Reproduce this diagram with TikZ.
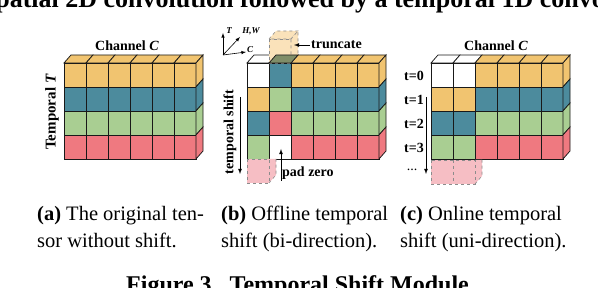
\documentclass[tikz,border=0pt]{standalone}
\usepackage{fontspec}
\setmainfont{Liberation Serif}
\usepackage{xcolor}
\definecolor{tsmorange}{RGB}{241,196,112}
\definecolor{tsmteal}{RGB}{76,139,157}
\definecolor{tsmvert}{RGB}{169,206,146}
\definecolor{tsmrouge}{RGB}{239,121,128}
\definecolor{tsmpeche}{RGB}{250,226,186}
\definecolor{tsmrose}{RGB}{246,190,196}
\definecolor{tsmolive}{RGB}{128,142,105}
\usepackage{tikz}
\usetikzlibrary{positioning}
% Tenseur : abscisse de gauche, puis les couleurs des quatre lignes
\newcommand{\tenseur}[5]{%
  \foreach \ligne [count=\rang from 0] in {{#2},{#3},{#4},{#5}}{
    \foreach \coul [count=\colonne from 0] in \ligne{
      \draw[cube, fill=\coul] (#1+22*\colonne,63+24*\rang) rectangle ++(22,24);
      \ifnum\rang=0 \draw[cube, fill=\coul] (#1+22*\colonne,63) -- ++(7,-8)
        -- ++(22,0) -- ++(-7,8) -- cycle;\fi
      \ifnum\colonne=5 \draw[cube, fill=\coul] (#1+132,63+24*\rang) -- ++(7,-8)
        -- ++(0,24) -- ++(-7,8) -- cycle;\fi
    }
  }}

\begin{document}
\begin{tikzpicture}[x=1pt, y=-1pt,
    cube/.style={draw=black!90, line width=0.75pt},
    fantome/.style={draw=black!45, dashed, line width=0.6pt},
    etiquette/.style={font=\bfseries\fontsize{14}{16}\selectfont, inner sep=1pt},
    axe/.style={font=\bfseries\itshape\fontsize{9}{10}\selectfont, inner sep=0pt},
    legende/.style={font=\fontsize{20.5}{27}\selectfont, align=left,
                    anchor=north west, inner sep=0pt},
    fleche/.style={-latex, line width=0.8pt}]
  \clip (0,0) rectangle (598,288);
  % Texte coupe en haut et en bas de la page
  \node[anchor=base west, inner sep=0pt,
        font=\bfseries\fontsize{26}{30}\selectfont] (entete) at (-15,8)
    {spatial 2D convolution followed by a temporal 1D convolution};
  \node[anchor=base west, inner sep=0pt,
        font=\bfseries\fontsize{24}{28}\selectfont] (figure) at (126,293)
    {Figure 3.\ \ Temporal Shift Module};
  % (a) tenseur d'origine
  \tenseur{64}{tsmorange,tsmorange,tsmorange,tsmorange,tsmorange,tsmorange}
    {tsmteal,tsmteal,tsmteal,tsmteal,tsmteal,tsmteal}
    {tsmvert,tsmvert,tsmvert,tsmvert,tsmvert,tsmvert}
    {tsmrouge,tsmrouge,tsmrouge,tsmrouge,tsmrouge,tsmrouge}
  \node[etiquette] (canalA) at (127,46) {Channel \textit{C}};
  \node[etiquette, rotate=90, font=\bfseries\fontsize{15}{17}\selectfont]
    (tempsA) at (52,112) {Temporal \textit{T}};
  % (b) decalage hors ligne, dans les deux sens
  \tenseur{247}{white,tsmteal,tsmorange,tsmorange,tsmorange,tsmorange}
    {tsmorange,tsmvert,tsmteal,tsmteal,tsmteal,tsmteal}
    {tsmteal,tsmrouge,tsmvert,tsmvert,tsmvert,tsmvert}
    {tsmvert,white,tsmrouge,tsmrouge,tsmrouge,tsmrouge}
  \draw[fantome, fill=tsmpeche] (269,39) rectangle (291,63);
  \draw[fantome, fill=tsmpeche] (269,39) -- (276,31) -- (298,31) -- (291,39) -- cycle;
  \draw[fantome, fill=tsmpeche] (291,39) -- (298,31) -- (298,55) -- (291,63) -- cycle;
  \draw[cube, fill=tsmolive] (269,63) -- (276,55) -- (298,55) -- (291,63) -- cycle;
  \fill[tsmrose] (269,159) -- (276,159) -- (276,175) -- (269,183) -- cycle;
  \draw[fantome, fill=tsmrose] (247,159) rectangle (269,183);
  \draw[fantome] (269,183) -- (276,175) -- (276,159);
  % axes T, H,W et C
  \coordinate (origine) at (223,55);
  \coordinate (axeT) at (223,33);
  \coordinate (axeHW) at (240,37);
  \coordinate (axeC) at (246,52);
  \draw[-latex, line width=0.6pt] (origine) -- (axeT);
  \draw[-latex, line width=0.6pt] (origine) -- (axeHW);
  \draw[-latex, line width=0.6pt] (origine) -- (axeC);
  \node[axe] (lettreT) at (229,31) {T};
  \node[axe] (lettreHW) at (251,31) {H,W};
  \node[axe] (lettreC) at (250,50) {C};
  \node[etiquette, anchor=west] (tronquer) at (310,45) {truncate};
  \coordinate (fantomeT) at (294,45);
  \draw[fleche] (tronquer) -- (fantomeT);
  \node[etiquette, anchor=south west] (remplir) at (281,181) {pad zero};
  \coordinate (zeroB) at (281,149);
  \draw[fleche] (remplir.south west) -- (zeroB);
  \node[etiquette, rotate=90] (decalB) at (230,132) {temporal shift};
  \coordinate (hautB) at (240,97);
  \coordinate (basB) at (240,174);
  \draw[fleche] (hautB) -- (basB);
  % (c) decalage en ligne, dans un seul sens
  \tenseur{431}{white,white,tsmorange,tsmorange,tsmorange,tsmorange}
    {tsmorange,tsmorange,tsmteal,tsmteal,tsmteal,tsmteal}
    {tsmteal,tsmteal,tsmvert,tsmvert,tsmvert,tsmvert}
    {tsmvert,tsmvert,tsmrouge,tsmrouge,tsmrouge,tsmrouge}
  \fill[tsmrose] (475,160) -- (482,160) -- (482,176) -- (475,184) -- cycle;
  \draw[fantome, fill=tsmrose] (431,160) rectangle (475,184);
  \draw[fantome] (453,160) -- (453,184);
  \draw[fantome] (475,184) -- (482,176) -- (482,160);
  \node[etiquette] (canalC) at (496,46) {Channel \textit{C}};
  \foreach \t in {0,...,3}
    \node[etiquette] (temps\t) at (414,76+24*\t) {t=\t};
  \node[etiquette, font=\fontsize{14}{16}\selectfont] (suiteC) at (412,170) {...};
  \coordinate (hautC) at (426,97);
  \coordinate (basC) at (426,174);
  \draw[fleche] (hautC) -- (basC);
  % Legendes des trois sous-figures
  \node[legende] (legendeA) at (37,206)
    {\textbf{(a)} The original ten-\\sor without shift.};
  \node[legende] (legendeB) at (221,206)
    {\textbf{(b)} Offline temporal\\shift (bi-direction).};
  \node[legende] (legendeC) at (400,206)
    {\textbf{(c)} Online temporal\\shift (uni-direction).};
\end{tikzpicture}
\end{document}
